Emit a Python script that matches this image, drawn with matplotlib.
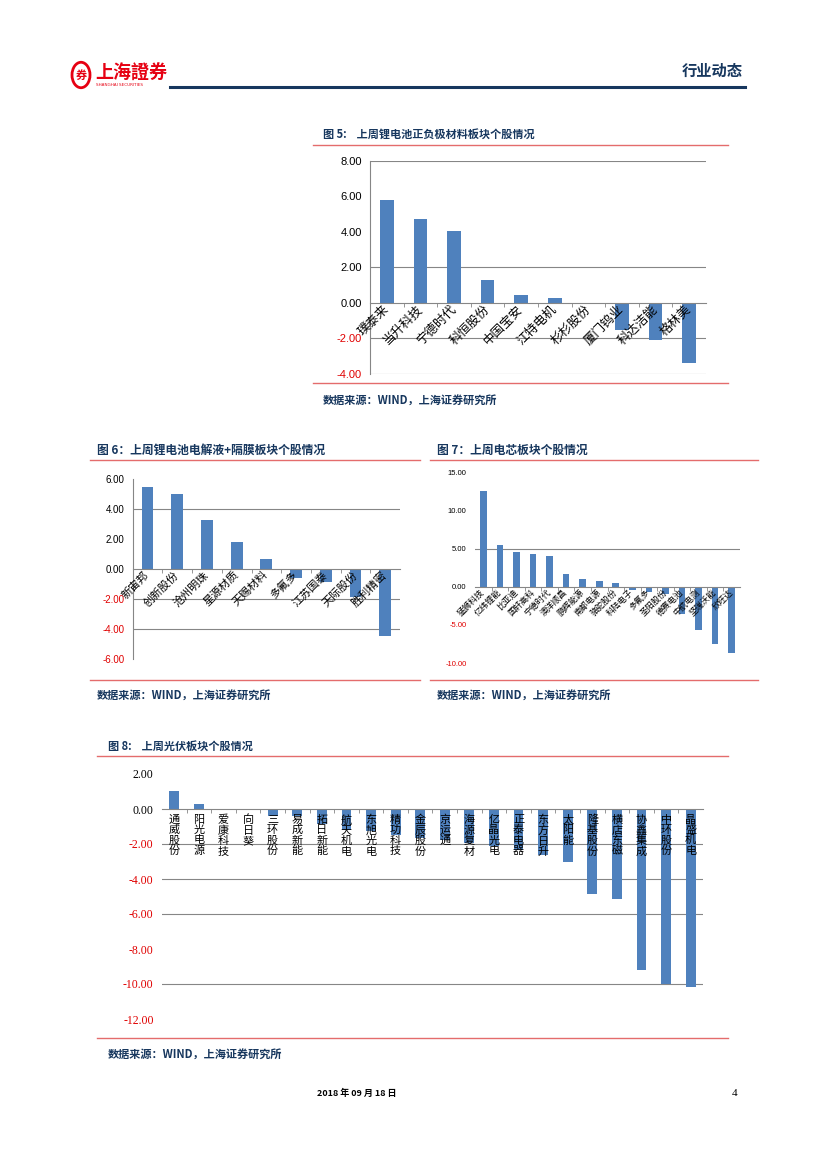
import matplotlib
matplotlib.use("Agg")
import matplotlib.pyplot as plt
from matplotlib.patches import Circle
from matplotlib.lines import Line2D

plt.rcParams['font.family'] = ['Noto Sans CJK SC', 'DejaVu Sans']

# 图5 上周锂电池正负极材料板块个股情况
labels_5 = ["璞泰来", "当升科技", "宁德时代", "科恒股份", "中国宝安",
            "江特电机", "杉杉股份", "厦门钨业", "科达洁能", "格林美"]
values_5 = [5.78, 4.71, 4.04, 1.28, 0.45, 0.26, 0.0, -1.54, -2.10, -3.38]
yticks_5 = [8, 6, 4, 2, 0, -2, -4]
grid_5 = [8, 2, -2, -4]

# 图6 上周锂电池电解液+隔膜板块个股情况
labels_6 = ["新宙邦", "创新股份", "沧州明珠", "星源材质", "天赐材料",
            "多氟多", "江苏国泰", "天际股份", "胜利精密"]
values_6 = [5.45, 4.98, 3.23, 1.82, 0.67, -0.63, -0.85, -1.86, -4.46]
yticks_6 = [6, 4, 2, 0, -2, -4, -6]
grid_6 = [4, -2, -4]

# 图7 上周电芯板块个股情况
labels_7 = ["猛狮科技", "亿纬锂能", "比亚迪", "国轩高科", "宁德时代", "澳洋顺昌",
            "鹏辉能源", "南都电源", "骆驼股份", "科陆电子", "多氟多", "圣阳股份",
            "德赛电池", "中航电测", "坚瑞沃能", "欣旺达"]
values_7 = [12.6, 5.51, 4.59, 4.33, 4.07, 1.71, 1.05, 0.79, 0.52,
            -0.35, -0.61, -0.92, -3.50, -5.73, -7.44, -8.75]
yticks_7 = [15, 10, 5, 0, -5, -10]
grid_7 = [5]

# 图8 上周光伏板块个股情况
labels_8 = ["通威股份", "阳光电源", "爱康科技", "向日葵", "三环股份", "易成新能",
            "拓日新能", "航天机电", "东旭光电", "精功科技", "金辰股份", "京运通",
            "海源复材", "亿晶光电", "正泰电器", "东方日升", "太阳能", "隆基股份",
            "横店东磁", "协鑫集成", "中环股份", "晶盛机电"]
values_8 = [1.05, 0.30, 0.0, 0.0, -0.42, -0.42, -0.84, -1.18, -1.28, -1.50,
            -1.66, -1.75, -1.94, -2.10, -2.32, -2.60, -3.00, -4.88, -5.16,
            -9.22, -9.98, -10.19]
yticks_8 = [2, 0, -2, -4, -6, -8, -10, -12]
grid_8 = [-2, -4, -6, -10]

W, H = 827, 1169
BLUE = "#4F81BD"
NAVY = "#17375E"
RED_LINE = "#E46C6C"
GRID = "#868686"

fig = plt.figure(figsize=(W / 100, H / 100), dpi=100)


def fx(x):
    return x / W


def fy(y):
    return 1 - y / H


def hline(x0, x1, y, color, lw):
    fig.add_artist(Line2D([fx(x0), fx(x1)], [fy(y), fy(y)],
                          transform=fig.transFigure, color=color, lw=lw))


def panel(x0, y0, x1, y1, labels, values, yticks, grids, tick_fs, tick_family,
          lab_fs, rot=45, left_spine=True, stacked=False):
    ax = fig.add_axes([fx(x0), fy(y1), fx(x1) - fx(x0), fy(y0) - fy(y1)])
    n = len(values)
    # grid lowest, then bars, axis (with tick labels) on top
    ax.bar(range(n), values, width=0.4, color=BLUE, zorder=2)
    ax.set_xlim(-0.5, n - 0.5)
    ax.set_ylim(min(yticks), max(yticks))
    for g in grids:
        ax.axhline(g, color=GRID, lw=0.8, zorder=1)
    for s in ["top", "right"]:
        ax.spines[s].set_visible(False)
    ax.spines["left"].set_visible(left_spine)
    ax.spines["left"].set_color(GRID)
    ax.spines["bottom"].set_position(("data", 0))
    ax.spines["bottom"].set_color(GRID)
    ax.xaxis.set_zorder(4)

    ax.set_yticks(yticks)
    ax.set_yticklabels([f"{v:.2f}" for v in yticks], fontsize=tick_fs,
                       family=tick_family)
    for lab, v in zip(ax.get_yticklabels(), yticks):
        lab.set_color("#E00000" if v < 0 else "black")
    ax.tick_params(axis="y", length=0, pad=6)

    ax.set_xticks([i + 0.5 for i in range(n - 1)], minor=True)
    ax.tick_params(axis="x", which="minor", length=3, color=GRID, direction="out")
    ax.set_xticks(range(n))
    if stacked:
        ax.set_xticklabels(["\n".join(l) for l in labels], fontsize=lab_fs,
                           linespacing=1.05, va="top", ha="center")
        ax.tick_params(axis="x", which="major", length=0, pad=4)
    else:
        ax.set_xticklabels(labels, fontsize=lab_fs, rotation=rot, ha="right",
                           va="center", rotation_mode="anchor")
        ax.tick_params(axis="x", which="major", length=0, pad=3)
    return ax


# ---- page header ----
fig.add_artist(Circle((fx(81), fy(75)), 9 / W, transform=fig.transFigure,
                      fill=False, ec="#E60012", lw=2))
fig.text(fx(81), fy(75), "券", color="#E60012", fontsize=8, weight="bold",
         ha="center", va="center")
fig.text(fx(95), fy(73), "上海證券", color="#E60012", fontsize=13,
         weight="bold", va="center")
fig.text(fx(96), fy(85), "SHANGHAI SECURITIES", color="#E60012", fontsize=3,
         va="center", family="DejaVu Sans")
fig.text(fx(743), fy(71), "行业动态", color=NAVY, fontsize=11, weight="bold",
         ha="right", va="center")
hline(170, 745, 86.5, NAVY, 2.2)

# ---- figure 5 ----
fig.text(fx(323), fy(134), "图 5:    上周锂电池正负极材料板块个股情况", color=NAVY,
         fontsize=8, weight="bold", va="center")
hline(313, 728, 145, RED_LINE, 1.0)
panel(370, 160.7, 706, 374, labels_5, values_5, yticks_5, grid_5,
      8, "Liberation Sans", 9)
hline(313, 728, 383, RED_LINE, 1.0)
fig.text(fx(323), fy(400), "数据来源：WIND，上海证券研究所", color=NAVY,
         fontsize=8, weight="bold", va="center")

# ---- figure 6 ----
fig.text(fx(97), fy(450), "图 6：上周锂电池电解液+隔膜板块个股情况", color=NAVY,
         fontsize=8.5, weight="bold", va="center")
hline(90, 420, 460, RED_LINE, 1.0)
panel(132.7, 479, 400, 658.7, labels_6, values_6, yticks_6, grid_6,
      7, "Liberation Sans", 8)
hline(90, 420, 680, RED_LINE, 1.0)
fig.text(fx(97), fy(695), "数据来源：WIND，上海证券研究所", color=NAVY,
         fontsize=8, weight="bold", va="center")

# ---- figure 7 ----
fig.text(fx(437), fy(450), "图 7：上周电芯板块个股情况", color=NAVY,
         fontsize=8.5, weight="bold", va="center")
hline(430, 758, 460, RED_LINE, 1.0)
panel(475, 472.7, 740, 663, labels_7, values_7, yticks_7, grid_7,
      5.5, "Liberation Sans", 6, left_spine=False)
hline(430, 758, 680, RED_LINE, 1.0)
fig.text(fx(437), fy(695), "数据来源：WIND，上海证券研究所", color=NAVY,
         fontsize=8, weight="bold", va="center")

# ---- figure 8 ----
fig.text(fx(108), fy(746), "图 8:    上周光伏板块个股情况", color=NAVY,
         fontsize=8, weight="bold", va="center")
hline(97, 728, 755.5, RED_LINE, 1.0)
panel(162, 774, 703, 1019, labels_8, values_8, yticks_8, grid_8,
      8.5, "Liberation Serif", 8, left_spine=False, stacked=True)
hline(97, 728, 1038, RED_LINE, 1.0)
fig.text(fx(108), fy(1054), "数据来源：WIND，上海证券研究所", color=NAVY,
         fontsize=8, weight="bold", va="center")

# ---- footer ----
fig.text(fx(357), fy(1093), "2018 年 09 月 18 日", color="black", fontsize=6.5,
         weight="bold", ha="center", va="center")
fig.text(fx(735), fy(1093), "4", color="black", fontsize=8, ha="center",
         va="center", family="Liberation Serif")

fig.savefig("out.png", dpi=100)
